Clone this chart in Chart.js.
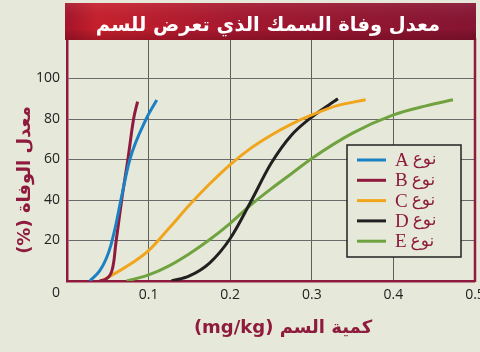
<!DOCTYPE html>
<html>
<head>
<meta charset="utf-8">
<script src="https://cdn.jsdelivr.net/npm/chart.js@4"></script>
<style>
  html, body { margin: 0; padding: 0; background: #e6e9d9; overflow: hidden; }
  canvas { display: block; }
</style>
</head>
<body>
<canvas id="chart" width="480" height="352"></canvas>
<script>
const seriesNames = ["A", "B", "C", "D", "E"];
const typeWord = "نوع";
const chartTitle = "معدل وفاة السمك الذي تعرض للسم";
const xTitle = "كمية السم (mg/kg)";
const yTitle = "معدل الوفاة (%)";

// dose (mg/kg) and death rate (%)
const aX = [0.028, 0.04, 0.048, 0.054, 0.06, 0.066, 0.077, 0.097, 0.11];
const aY = [0, 5, 11, 18, 28, 40, 60, 80, 89.4];
const bX = [0.040, 0.048, 0.052, 0.055, 0.0575, 0.0597, 0.063, 0.067, 0.0746, 0.0816, 0.0865];
const bY = [0, 1, 2.5, 5, 10, 18, 28, 40, 60, 80, 88.6];
const cX = [0.042, 0.06, 0.08, 0.1, 0.125, 0.15, 0.175, 0.2, 0.225, 0.25, 0.275, 0.3, 0.33, 0.366];
const cY = [0, 4, 9, 15, 26, 37.5, 48, 57.5, 65.5, 72, 77.5, 82, 86.5, 89.5];
const dX = [0.128, 0.15, 0.175, 0.2, 0.225, 0.25, 0.275, 0.3, 0.332];
const dY = [0, 2.5, 9, 21, 39, 58, 72, 81, 90];
const eX = [0.073, 0.1, 0.125, 0.15, 0.175, 0.2, 0.225, 0.25, 0.275, 0.3, 0.35, 0.4, 0.44, 0.473];
const eY = [0, 3, 7.5, 13.5, 20.5, 28.5, 37.5, 45.5, 53, 60.5, 73, 82, 86.5, 89.5];

const xTicks = [0.1, 0.2, 0.3, 0.4, 0.5];
const yTicks = [20, 40, 60, 80, 100];

const colors = ["#1c80c4", "#8e1b3d", "#f0a51c", "#231f20", "#70a33f"];
const maroon = "#8e1b3d";

function pts(xs, ys) {
  return xs.map((x, i) => ({ x: x, y: ys[i] }));
}
const allX = [aX, bX, cX, dX, eX];
const allY = [aY, bY, cY, dY, eY];

const background = {
  id: "background",
  beforeDraw: (chart) => {
    const { ctx } = chart;
    ctx.save();
    ctx.fillStyle = "#e6e9d9";
    ctx.fillRect(0, 0, chart.width, chart.height);
    ctx.restore();
  }
};

const decorations = {
  id: "decorations",
  afterDraw: (chart) => {
    const { ctx, chartArea } = chart;
    ctx.save();

    // right border of the plot
    ctx.strokeStyle = maroon;
    ctx.lineWidth = 2.5;
    ctx.beginPath();
    ctx.moveTo(chartArea.right, chartArea.top);
    ctx.lineTo(chartArea.right, chartArea.bottom + 1);
    ctx.stroke();

    // title banner
    const bx = 65, by = 3, bw = chartArea.right - 65 + 1, bh = 37;
    const g = ctx.createLinearGradient(bx, 0, bx + bw, 0);
    g.addColorStop(0, "#a5142a");
    g.addColorStop(0.08, "#c81f2c");
    g.addColorStop(0.45, "#a3172f");
    g.addColorStop(1, "#861432");
    ctx.fillStyle = g;
    ctx.fillRect(bx, by, bw, bh);
    const gv = ctx.createLinearGradient(0, by, 0, by + bh);
    gv.addColorStop(0, "rgba(255,255,255,0.08)");
    gv.addColorStop(0.7, "rgba(0,0,0,0)");
    gv.addColorStop(1, "rgba(60,0,10,0.25)");
    ctx.fillStyle = gv;
    ctx.fillRect(bx, by, bw, bh);

    ctx.fillStyle = "#ffffff";
    ctx.font = "bold 19.5px 'DejaVu Sans'";
    ctx.textAlign = "center";
    ctx.textBaseline = "middle";
    ctx.direction = "rtl";
    ctx.fillText(chartTitle, 268, 26);

    // axis titles
    ctx.fillStyle = maroon;
    ctx.font = "bold 18px 'DejaVu Sans'";
    ctx.fillText(xTitle, 283, 328);
    ctx.save();
    ctx.translate(25, 180);
    ctx.rotate(-Math.PI / 2);
    ctx.fillText(yTitle, 0, 0);
    ctx.restore();

    // shared origin label
    ctx.direction = "ltr";
    ctx.fillStyle = "#222";
    ctx.font = "14px 'Open Sans'";
    ctx.fillText("0", 56, 293);

    // legend box
    const lx = 347, ly = 145, lw = 114, lh = 112;
    ctx.fillStyle = "#e6e9d9";
    ctx.fillRect(lx, ly, lw, lh);
    ctx.strokeStyle = "#222";
    ctx.lineWidth = 1.5;
    ctx.strokeRect(lx, ly, lw, lh);
    chart.data.datasets.forEach((ds, i) => {
      const yy = 160 + i * 20.3;
      ctx.strokeStyle = ds.borderColor;
      ctx.lineWidth = 3;
      ctx.beginPath();
      ctx.moveTo(357, yy);
      ctx.lineTo(386, yy);
      ctx.stroke();
      ctx.fillStyle = maroon;
      ctx.textAlign = "left";
      ctx.font = "19px 'Liberation Serif'";
      ctx.fillText(ds.label, 395, yy + 1);
      const w = ctx.measureText(ds.label).width;
      ctx.font = "17px 'DejaVu Sans'";
      ctx.fillText(typeWord, 395 + w + 4, yy);
    });

    ctx.restore();
  }
};

new Chart(document.getElementById("chart"), {
  type: "line",
  data: {
    datasets: seriesNames.map((name, i) => ({
      label: name,
      data: pts(allX[i], allY[i]),
      borderColor: colors[i],
      backgroundColor: colors[i],
      borderWidth: 3,
      pointRadius: 0,
      fill: false,
      cubicInterpolationMode: "monotone",
      borderCapStyle: "butt"
    }))
  },
  plugins: [background, decorations],
  options: {
    responsive: false,
    animation: false,
    devicePixelRatio: 1,
    layout: { padding: { left: 0, right: 5, top: 38, bottom: 0 } },
    plugins: {
      legend: { display: false },
      tooltip: { enabled: false },
      title: { display: false }
    },
    scales: {
      x: {
        type: "linear",
        min: 0,
        max: 0.5,
        afterFit: (s) => { s.height = 71; s.paddingLeft = 0; s.paddingRight = 0; },
        afterBuildTicks: (s) => { s.ticks = [0].concat(xTicks).map(v => ({ value: v })); },
        border: { color: maroon, width: 2.5 },
        grid: { color: "#5e5e5e", lineWidth: (c) => (c.tick && c.tick.value === 0 ? 0 : 1), drawTicks: false },
        ticks: {
          color: "#222",
          padding: 6,
          maxRotation: 0,
          font: { family: "'Open Sans'", size: 14 },
          callback: (v) => (v === 0 ? "" : Number(v).toFixed(1))
        }
      },
      y: {
        min: 0,
        max: 120,
        afterFit: (s) => { s.width = 67; s.paddingTop = 0; s.paddingBottom = 0; },
        afterBuildTicks: (s) => { s.ticks = [0].concat(yTicks).map(v => ({ value: v })); },
        border: { color: maroon, width: 2.5 },
        grid: { color: "#6a6a6a", lineWidth: (c) => (c.tick && c.tick.value === 0 ? 0 : 1), drawTicks: false },
        ticks: {
          color: "#222",
          padding: 7,
          font: { family: "'Open Sans'", size: 14 },
          callback: (v) => (v === 0 ? "" : v)
        }
      }
    }
  }
});
</script>
</body>
</html>
